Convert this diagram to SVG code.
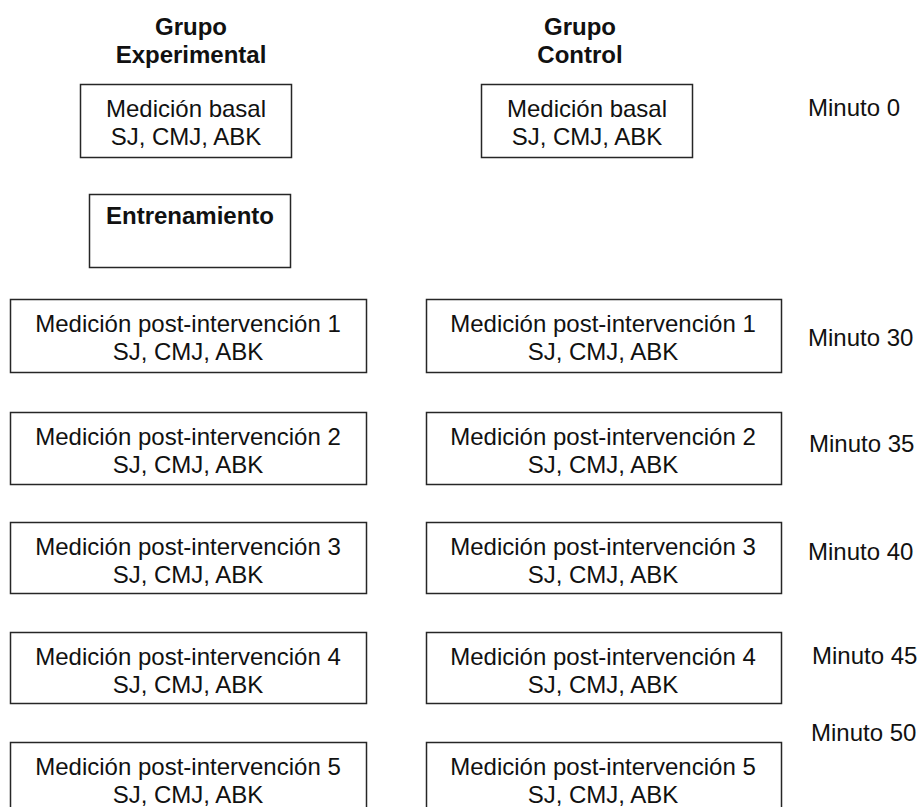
<svg xmlns="http://www.w3.org/2000/svg" width="920" height="807" viewBox="0 0 920 807">
<style>
.box{fill:#fff;stroke:#262626;stroke-width:1.5}
.t{font-family:"Liberation Sans",Arial,sans-serif;font-size:24px;fill:#111;text-anchor:middle}
.b{font-weight:bold}
.m{font-family:"Liberation Sans",Arial,sans-serif;font-size:24px;fill:#111}
</style>
<rect width="920" height="807" fill="#fff"/>
<g id="hdr-exp"><text class="t b" x="191" y="35">Grupo</text><text class="t b" x="191" y="63">Experimental</text></g>
<g id="hdr-ctl"><text class="t b" x="580" y="35">Grupo</text><text class="t b" x="580" y="63">Control</text></g>
<g id="exp-basal"><rect class="box" x="80.5" y="84.5" width="211" height="73"/><text class="t" x="186" y="117">Medición basal</text><text class="t" x="186" y="145">SJ, CMJ, ABK</text></g>
<g id="ctl-basal"><rect class="box" x="481.5" y="84.5" width="211" height="73"/><text class="t" x="587" y="117">Medición basal</text><text class="t" x="587" y="145">SJ, CMJ, ABK</text></g>
<g id="entrenamiento"><rect class="box" x="89.5" y="194.5" width="201" height="73"/><text class="t b" x="190" y="224">Entrenamiento</text></g>
<g id="exp-post1"><rect class="box" x="10.5" y="299.5" width="356" height="73"/><text class="t" x="188" y="332">Medición post-intervención 1</text><text class="t" x="188" y="360">SJ, CMJ, ABK</text></g>
<g id="ctl-post1"><rect class="box" x="426.5" y="299.5" width="355" height="73"/><text class="t" x="603" y="332">Medición post-intervención 1</text><text class="t" x="603" y="360">SJ, CMJ, ABK</text></g>
<g id="exp-post2"><rect class="box" x="10.5" y="412.5" width="356" height="72"/><text class="t" x="188" y="445">Medición post-intervención 2</text><text class="t" x="188" y="473">SJ, CMJ, ABK</text></g>
<g id="ctl-post2"><rect class="box" x="426.5" y="412.5" width="355" height="72"/><text class="t" x="603" y="445">Medición post-intervención 2</text><text class="t" x="603" y="473">SJ, CMJ, ABK</text></g>
<g id="exp-post3"><rect class="box" x="10.5" y="522.5" width="356" height="71"/><text class="t" x="188" y="555">Medición post-intervención 3</text><text class="t" x="188" y="583">SJ, CMJ, ABK</text></g>
<g id="ctl-post3"><rect class="box" x="426.5" y="522.5" width="355" height="71"/><text class="t" x="603" y="555">Medición post-intervención 3</text><text class="t" x="603" y="583">SJ, CMJ, ABK</text></g>
<g id="exp-post4"><rect class="box" x="10.5" y="632.5" width="356" height="71"/><text class="t" x="188" y="665">Medición post-intervención 4</text><text class="t" x="188" y="693">SJ, CMJ, ABK</text></g>
<g id="ctl-post4"><rect class="box" x="426.5" y="632.5" width="355" height="71"/><text class="t" x="603" y="665">Medición post-intervención 4</text><text class="t" x="603" y="693">SJ, CMJ, ABK</text></g>
<g id="exp-post5"><rect class="box" x="10.5" y="742.5" width="356" height="73"/><text class="t" x="188" y="775">Medición post-intervención 5</text><text class="t" x="188" y="803">SJ, CMJ, ABK</text></g>
<g id="ctl-post5"><rect class="box" x="426.5" y="742.5" width="355" height="73"/><text class="t" x="603" y="775">Medición post-intervención 5</text><text class="t" x="603" y="803">SJ, CMJ, ABK</text></g>
<g id="minutes">
<text class="m" x="808" y="116">Minuto 0</text>
<text class="m" x="808" y="346">Minuto 30</text>
<text class="m" x="809" y="452">Minuto 35</text>
<text class="m" x="808" y="560">Minuto 40</text>
<text class="m" x="812" y="664">Minuto 45</text>
<text class="m" x="811" y="741">Minuto 50</text>
</g>
<g id="connectors"/>
</svg>
